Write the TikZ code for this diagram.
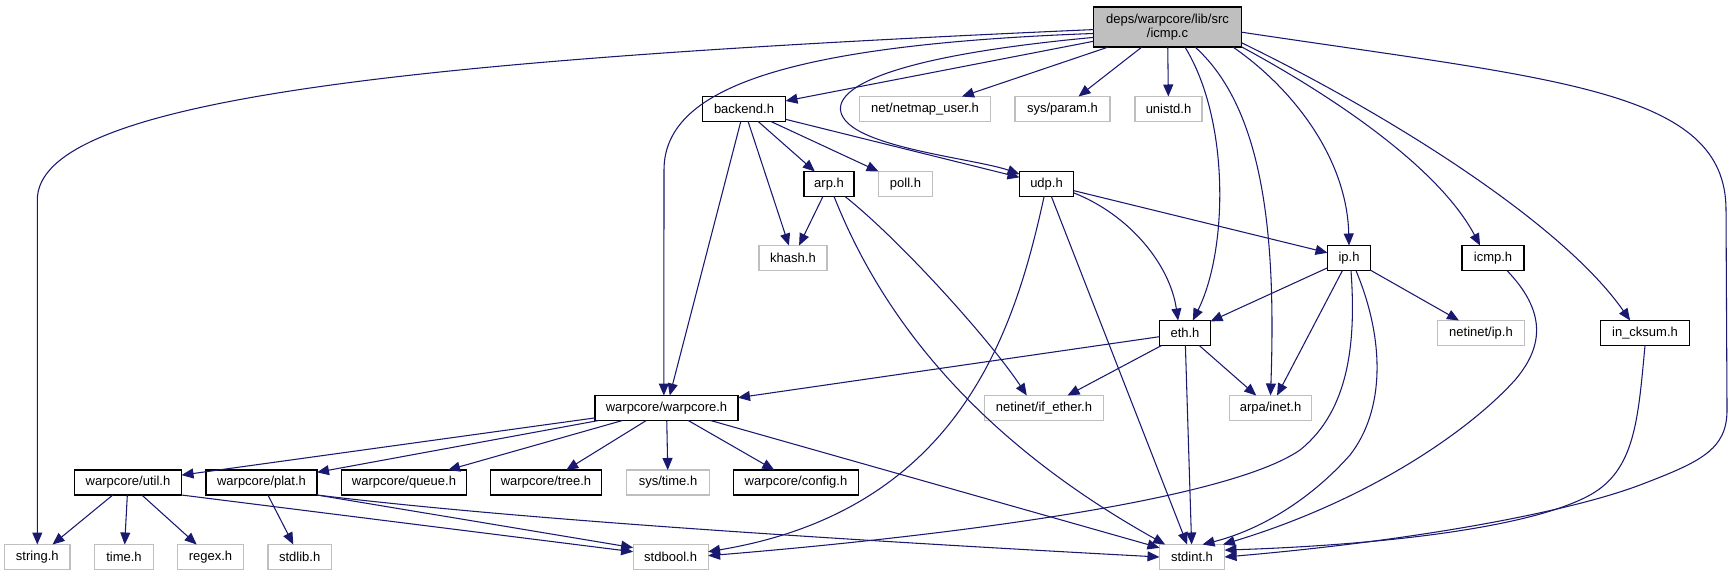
\documentclass[tikz,border=0pt]{standalone}
\usepackage{fontspec}
\setmainfont{Liberation Sans}
\usetikzlibrary{arrows.meta}
\definecolor{edgec}{RGB}{25,25,112}
\definecolor{greyc}{RGB}{191,191,191}
\begin{document}
\begin{tikzpicture}[x=0.75pt,y=-0.75pt,
  every node/.style={font=\fontsize{9.75pt}{10pt}\selectfont, inner sep=0pt, outer sep=0pt, minimum height=18.75pt},
  doc/.style={draw=black, fill=white, line width=0.9pt, minimum width=#1*0.75pt},
  undoc/.style={draw=greyc, fill=white, line width=0.9pt, minimum width=#1*0.75pt},
  rootbox/.style={draw=black, fill=greyc, line width=0.9pt, minimum width=148*0.75pt, minimum height=30pt, align=center},
  dep/.style={draw=edgec, line width=0.8pt, -{Triangle[length=9pt,width=7.5pt]}}
]
\useasboundingbox (0,0) rectangle (1733,576);
% nodes
\node[rootbox] (root) at (1167.5,27) {deps/warpcore/lib/src\\/icmp.c};
\node[doc=83] (backend) at (744,109) {backend.h};
\node[undoc=131] (netmap) at (925,109) {net/netmap\_user.h};
\node[undoc=95] (param) at (1062.5,109) {sys/param.h};
\node[undoc=67] (unistd) at (1168.5,109) {unistd.h};
\node[doc=50] (arp) at (829,184) {arp.h};
\node[undoc=54] (poll) at (905.5,184) {poll.h};
\node[doc=54] (udp) at (1046.5,184) {udp.h};
\node[undoc=68] (khash) at (793,258) {khash.h};
\node[doc=43] (ip) at (1349,258) {ip.h};
\node[doc=62] (icmph) at (1493,258) {icmp.h};
\node[doc=51] (eth) at (1185,333) {eth.h};
\node[undoc=87] (netinetip) at (1481,333) {netinet/ip.h};
\node[doc=89] (incksum) at (1645,333) {in\_cksum.h};
\node[doc=143] (warpcore) at (666.5,408) {warpcore/warpcore.h};
\node[undoc=119] (ifether) at (1044,408) {netinet/if\_ether.h};
\node[undoc=82.5] (arpa) at (1270.5,408) {arpa/inet.h};
\node[doc=107] (util) at (128,482.5) {warpcore/util.h};
\node[doc=111] (plat) at (261.5,482.5) {warpcore/plat.h};
\node[doc=125.5] (queue) at (404,482.5) {warpcore/queue.h};
\node[doc=111] (tree) at (546,482.5) {warpcore/tree.h};
\node[undoc=83] (systime) at (668,482.5) {sys/time.h};
\node[doc=125] (config) at (796,482.5) {warpcore/config.h};
\node[undoc=65.5] (string) at (37.3,557) {string.h};
\node[undoc=58.5] (time) at (124,557) {time.h};
\node[undoc=66] (regex) at (210.5,557) {regex.h};
\node[undoc=63.5] (stdlib) at (299.7,557) {stdlib.h};
\node[undoc=75] (stdbool) at (670.6,557) {stdbool.h};
\node[undoc=65] (stdint) at (1192,557) {stdint.h};
% edges from root
\draw[dep] (root.182) .. controls (400,60) and (37.3,100) .. (37.3,200) -- (string.north);
\draw[dep] (root.185) .. controls (780,45) and (664,90) .. (664,170) -- ([xshift=-2pt]warpcore.north);
\draw[dep] (root) -- (backend);
\draw[dep] (root.188) .. controls (850,60) and (820,100) .. (850,125) .. controls (880,150) and (980,160) .. (udp.160);
\draw[dep] (root) -- (netmap);
\draw[dep] (root) -- (param);
\draw[dep] (root) -- (unistd);
\draw[dep] (root.311) .. controls (1230,120) and (1228,250) .. (eth.58);
\draw[dep] (root.324) .. controls (1265,110) and (1276,240) .. (arpa.north);
\draw[dep] (root.343) .. controls (1295,90) and (1347,160) .. (ip.north);
\draw[dep] (root.345) .. controls (1340,100) and (1440,170) .. (icmph.136);
\draw[dep] (root.348) .. controls (1380,110) and (1560,220) .. (incksum.140);
\draw[dep] (root.356) .. controls (1560,80) and (1726,90) .. (1726,210) -- (1727,410) .. controls (1727,450) and (1700,462) .. (1640,485) .. controls (1560,515) and (1400,542) .. (stdint.east);
% backend
\draw[dep] (backend) -- (warpcore);
\draw[dep] (backend) -- (khash);
\draw[dep] (backend) -- (arp);
\draw[dep] (backend) -- (poll);
\draw[dep] (backend) -- (udp);
% arp
\draw[dep] (arp) -- (khash);
\draw[dep] (arp.292) .. controls (875,300) and (960,430) .. (stdint.155);
\draw[dep] (arp.322) .. controls (900,240) and (990,340) .. (ifether.144);
% udp
\draw[dep] (udp.259) .. controls (1015,330) and (960,510) .. (stdbool.8);
\draw[dep] (udp) -- (stdint);
\draw[dep] (udp.342) .. controls (1130,215) and (1170,265) .. (eth.119);
\draw[dep] (udp) -- (ip);
% ip
\draw[dep] (ip) -- (eth);
\draw[dep] (ip) -- (netinetip);
\draw[dep] (ip) -- (arpa);
\draw[dep] (ip.279) .. controls (1356,340) and (1350,410) .. (1300,450) .. controls (1220,505) and (900,540) .. (stdbool.2);
\draw[dep] (ip.299) .. controls (1385,340) and (1385,410) .. (1350,455) .. controls (1310,500) and (1260,530) .. (stdint.50);
% icmp.h, in_cksum
\draw[dep] (icmph.318) .. controls (1545,310) and (1545,345) .. (1515,380) .. controls (1470,430) and (1370,500) .. (stdint.22);
\draw[dep] (incksum.south) .. controls (1638,420) and (1635,470) .. (1590,495) .. controls (1530,528) and (1380,545) .. (stdint.12);
% eth
\draw[dep] (eth) -- (warpcore);
\draw[dep] (eth) -- (ifether);
\draw[dep] (eth) -- (arpa);
\draw[dep] (eth) -- (stdint);
% warpcore
\draw[dep] (warpcore) -- (util);
\draw[dep] (warpcore) -- (plat);
\draw[dep] (warpcore) -- (queue);
\draw[dep] (warpcore) -- (tree);
\draw[dep] (warpcore) -- (systime);
\draw[dep] (warpcore) -- (config);
\draw[dep] (warpcore) -- (stdint);
% util
\draw[dep] (util) -- (string);
\draw[dep] (util) -- (time);
\draw[dep] (util) -- (regex);
\draw[dep] (util.south east) -- (stdbool.172);
% plat
\draw[dep] (plat) -- (stdlib);
\draw[dep] (plat.south east) -- (stdbool.166);
\draw[dep] (plat.south east) .. controls (480,515) and (750,535) .. (stdint.west);
\end{tikzpicture}
\end{document}
